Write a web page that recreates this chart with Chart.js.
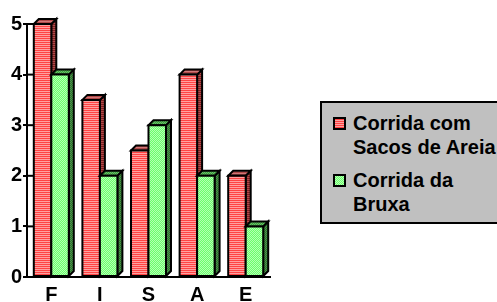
<!DOCTYPE html>
<html>
<head>
<meta charset="utf-8">
<script src="https://cdn.jsdelivr.net/npm/chart.js@4/dist/chart.umd.min.js"></script>
<style>
  html, body { margin: 0; padding: 0; background: #fff; overflow: hidden; }
  #wrap { position: relative; width: 497px; height: 302px; overflow: hidden; }
  #c { position: absolute; left: 0; top: 0; }
  #legend { position: absolute; left: 320px; top: 101px; width: 220px; height: 119px;
    background: #c0c0c0; border: 2px solid #000; }
  .item { position: absolute; left: 0; }
  .mk { position: absolute; left: 11px; width: 9px; height: 9px; border: 2px solid #000; }
  .txt { position: absolute; left: 31px; font: bold 20px "Liberation Sans", Arial, sans-serif;
    line-height: 24px; white-space: nowrap; color: #000; }
</style>
</head>
<body>
<div id="wrap">
  <canvas id="c" width="497" height="302"></canvas>
  <div id="legend"></div>
</div>
<script>
const categories = ['F', 'I', 'S', 'A', 'E'];
const seriesNames = [['Corrida com', 'Sacos de Areia'], ['Corrida da', 'Bruxa']];
const sacosValues = [5, 3.5, 2.5, 4, 2];
const bruxaValues = [4, 2, 3, 2, 1];
const yTicks = [0, 1, 2, 3, 4, 5];

function makePattern(kind, c1, c2) {
  const p = document.createElement('canvas');
  p.width = 2; p.height = 2;
  const g = p.getContext('2d');
  g.fillStyle = c1; g.fillRect(0, 0, 2, 2);
  g.fillStyle = c2;
  if (kind === 'stripe') { g.fillRect(0, 1, 2, 1); }
  else { g.fillRect(0, 0, 1, 1); g.fillRect(1, 1, 1, 1); }
  return p;
}
const ctx0 = document.getElementById('c').getContext('2d');
const P = {
  redFront: makePattern('stripe', '#ff4444', '#ffa0a0'),
  redTop: makePattern('stripe', '#b04848', '#d07878'),
  redSide: makePattern('stripe', '#7a2020', '#b04a4a'),
  greenFront: makePattern('check', '#6cff6c', '#b4ffb4'),
  greenTop: makePattern('check', '#3c9c3c', '#68c068'),
  greenSide: makePattern('check', '#2c6e2c', '#4c944c')
};
const fills = [
  { front: ctx0.createPattern(P.redFront, 'repeat'), top: ctx0.createPattern(P.redTop, 'repeat'), side: ctx0.createPattern(P.redSide, 'repeat') },
  { front: ctx0.createPattern(P.greenFront, 'repeat'), top: ctx0.createPattern(P.greenTop, 'repeat'), side: ctx0.createPattern(P.greenSide, 'repeat') }
];

// legend (HTML text)
const legend = document.getElementById('legend');
const legendTops = [8, 65];
seriesNames.forEach((lines, i) => {
  const it = document.createElement('div');
  it.className = 'item';
  it.style.top = legendTops[i] + 'px';
  const mk = document.createElement('div');
  mk.className = 'mk';
  mk.style.top = '6px';
  mk.style.backgroundImage = 'url(' + (i === 0 ? P.redFront : P.greenFront).toDataURL() + ')';
  const tx = document.createElement('div');
  tx.className = 'txt';
  tx.style.top = '0px';
  tx.innerHTML = lines.join('<br>');
  it.appendChild(mk); it.appendChild(tx);
  legend.appendChild(it);
});

const DX = 5, DY = 5;
const bars3d = {
  id: 'bars3d',
  afterDatasetsDraw(chart) {
    const ctx = chart.ctx;
    const ys = chart.scales.y;
    const left = chart.chartArea.left;
    ctx.save();
    ctx.strokeStyle = '#000';
    ctx.lineWidth = 2;
    yTicks.forEach(v => {
      const py = ys.getPixelForValue(v);
      ctx.beginPath(); ctx.moveTo(left, py); ctx.lineTo(left + 6, py); ctx.stroke();
    });
    const metas = [chart.getDatasetMeta(0), chart.getDatasetMeta(1)];
    ctx.lineJoin = 'miter';
    for (let i = 0; i < categories.length; i++) {
      for (let d = 0; d < 2; d++) {
        const el = metas[d].data[i];
        const w = el.width;
        const l = el.x - w / 2, r = el.x + w / 2, t = el.y, b = el.base;
        const f = fills[d];
        ctx.beginPath();
        ctx.moveTo(r, t); ctx.lineTo(r + DX, t - DY); ctx.lineTo(r + DX, b - DY); ctx.lineTo(r, b); ctx.closePath();
        ctx.fillStyle = f.side; ctx.fill(); ctx.stroke();
        ctx.beginPath();
        ctx.moveTo(l, t); ctx.lineTo(l + DX, t - DY); ctx.lineTo(r + DX, t - DY); ctx.lineTo(r, t); ctx.closePath();
        ctx.fillStyle = f.top; ctx.fill(); ctx.stroke();
        ctx.beginPath();
        ctx.rect(l, t, w, b - t);
        ctx.fillStyle = f.front; ctx.fill(); ctx.stroke();
      }
    }
    ctx.restore();
  }
};

const tickFont = () => ({ family: 'Arial, "Liberation Sans", sans-serif', size: 20, weight: 'bold' });

new Chart(document.getElementById('c'), {
  type: 'bar',
  data: {
    labels: categories,
    datasets: [
      { label: seriesNames[0].join(' '), data: sacosValues, backgroundColor: 'rgba(0,0,0,0)', borderWidth: 0 },
      { label: seriesNames[1].join(' '), data: bruxaValues, backgroundColor: 'rgba(0,0,0,0)', borderWidth: 0 }
    ]
  },
  options: {
    responsive: false,
    animation: false,
    events: [],
    categoryPercentage: 0.72,
    barPercentage: 1.0,
    layout: { padding: { left: 0, right: 227, top: 24, bottom: 0 } },
    plugins: { legend: { display: false }, tooltip: { enabled: false }, title: { display: false } },
    scales: {
      x: {
        grid: { display: false, drawTicks: false },
        border: { display: true, color: '#000', width: 2 },
        ticks: { font: tickFont(), color: '#000', padding: 6, maxRotation: 0, autoSkip: false },
        afterFit: s => { s.height = 25; }
      },
      y: {
        min: 0, max: 5,
        afterBuildTicks: s => { s.ticks = yTicks.map(v => ({ value: v })); },
        grid: { display: true, drawOnChartArea: false, drawTicks: true, tickLength: 4, color: '#000', lineWidth: 2 },
        border: { display: true, color: '#000', width: 2 },
        ticks: { font: tickFont(), color: '#000', padding: 1 },
        afterFit: s => { s.width = 27; }
      }
    }
  },
  plugins: [bars3d]
});
</script>
</body>
</html>
